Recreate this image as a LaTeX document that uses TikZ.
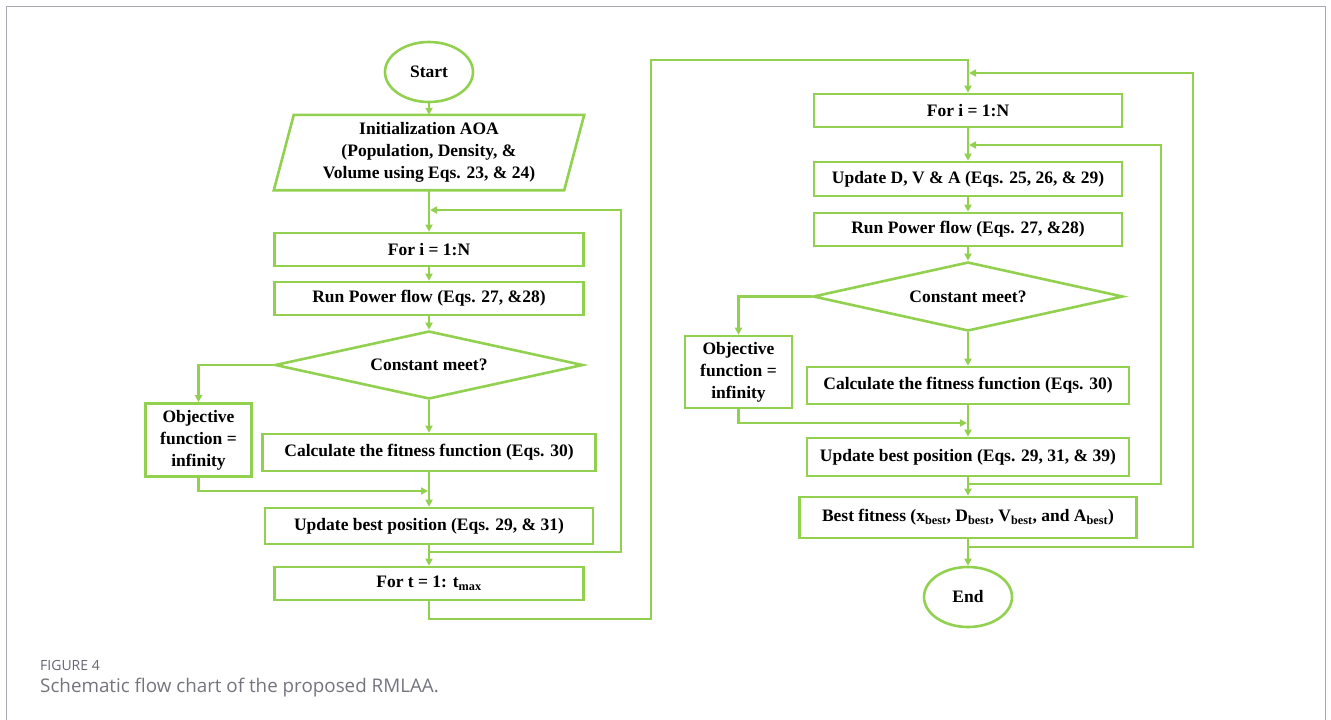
\documentclass[tikz,border=0pt]{standalone}
\usepackage{fontspec}
\setmainfont{Liberation Serif}
\newfontfamily\captionfont{Open Sans}
\usetikzlibrary{shapes.geometric,arrows.meta}

\definecolor{flowgreen}{HTML}{92D050}
\definecolor{framegray}{HTML}{A9A9B6}
\definecolor{labelgray}{HTML}{666674}
\definecolor{captiongray}{HTML}{74747E}

\begin{document}
\begin{tikzpicture}[x=1pt, y=-1pt,
	line/.style = {draw=flowgreen, line width=2.6pt},
	arr/.style = {line, -{Triangle[length=7pt, width=7pt]}},
	flowtext/.style = {font=\fontsize{17.5}{22}\selectfont\bfseries, text=black, align=center},
	box/.style = {line, flowtext, rectangle, minimum height=33pt, inner sep=2pt},
	term/.style = {line, flowtext, ellipse, minimum width=88pt, minimum height=60pt, inner sep=0pt},
	decide/.style = {line, flowtext, diamond, aspect=4.5, inner sep=0pt},
	objbox/.style = {box, minimum width=106pt, minimum height=73pt}
	]
	%	page and frame
	\useasboundingbox (0,0) rectangle (1331,720);
	\draw[framegray, line width=1pt] (6,720) -- (6,6) -- (1325,6) -- (1325,720);
	
	%	column positions
	\def\xl{429}
	\def\xr{968}
	
	%	left column
	\node[term] (start) at (\xl,72) {Start};
	\node[flowtext, minimum width=290pt, minimum height=75pt, inner sep=0pt] (init) at (\xl,152.5)
		{Initialization AOA\\(Population, Density, \&\\Volume using Eqs. 23, \& 24)};
	\draw[line] ([xshift=10pt]init.north west) -- ([xshift=10pt]init.north east)
		-- ([xshift=-10pt]init.south east) -- ([xshift=-10pt]init.south west) -- cycle;
	\node[box, minimum width=309pt] (fori) at (\xl,249.5) {For i = 1:N};
	\node[box, minimum width=309pt] (flow) at (\xl,298.5) {Run Power flow (Eqs. 27, \&28)};
	\node[decide, minimum width=308pt, minimum height=68pt] (meet) at (\xl,365) {Constant meet?};
	\node[objbox] (obj) at (198.5,440) {Objective\\function =\\infinity};
	\node[box, minimum width=333pt, minimum height=37pt] (fit) at (\xl,452.5) {Calculate the fitness function (Eqs. 30)};
	\node[box, minimum width=328pt, minimum height=36pt] (upd) at (\xl,526) {Update best position (Eqs. 29, \& 31)};
	\node[box, minimum width=309pt] (fort) at (\xl,583.5) {For t = 1: t\textsubscript{max}};
	
	%	right column
	\node[box, minimum width=308pt] (fori2) at (\xr,110.5) {For i = 1:N};
	\node[box, minimum width=308pt, minimum height=34pt] (updD) at (\xr,179) {Update D, V \& A (Eqs. 25, 26, \& 29)};
	\node[box, minimum width=308pt] (flow2) at (\xr,229.5) {Run Power flow (Eqs. 27, \&28)};
	\node[decide, minimum width=310pt, minimum height=69pt] (meet2) at (\xr,296.5) {Constant meet?};
	\node[objbox, minimum width=107pt, minimum height=72pt] (obj2) at (738.5,372) {Objective\\function =\\infinity};
	\node[box, minimum width=322pt, minimum height=37pt] (fit2) at (\xr,385.5) {Calculate the fitness function (Eqs. 30)};
	\node[box, minimum width=322pt, minimum height=38pt] (upd2) at (\xr,457) {Update best position (Eqs. 29, 31, \& 39)};
	\node[box, minimum width=337pt, minimum height=41pt] (best) at (\xr,517.5)
		{Best fitness (x\textsubscript{best}, D\textsubscript{best}, V\textsubscript{best}, and A\textsubscript{best})};
	\node[term] (end) at (\xr,597) {End};
	
	%	loop corners
	\coordinate (loopA1) at (621,552);
	\coordinate (loopA2) at (621,210);
	\coordinate (mergeA) at (\xl,491);
	\coordinate (linkA) at (651,619);
	\coordinate (linkB) at (651,60);
	\coordinate (loopB1) at (1193,547);
	\coordinate (loopB2) at (1193,73);
	\coordinate (loopC1) at (1161,484);
	\coordinate (loopC2) at (1161,145);
	\coordinate (mergeB) at (\xr,423);
	
	%	left connectors
	\draw[arr] (start) -- (init);
	\draw[arr] (init) -- (fori);
	\draw[arr] (fori) -- (flow);
	\draw[arr] (flow) -- (meet);
	\draw[arr] (meet) -- (fit);
	\draw[arr] (fit) -- (upd);
	\draw[arr] (upd) -- (fort);
	\draw[arr] (meet.west) -| (obj.north);
	\draw[arr, shorten >=1pt] (obj.south) |- (mergeA);
	\draw[arr, shorten >=1pt] (upd.south |- loopA1) -- (loopA1) -- (loopA2) -- (init.south |- loopA2);
	\draw[arr] (fort.south) |- (linkA) -- (linkB) -| (fori2.north);
	
	%	right connectors
	\draw[arr] (fori2) -- (updD);
	\draw[arr] (updD) -- (flow2);
	\draw[arr] (flow2) -- (meet2);
	\draw[arr] (meet2) -- (fit2);
	\draw[arr] (fit2) -- (upd2);
	\draw[arr] (upd2) -- (best);
	\draw[arr] (best) -- (end);
	\draw[arr] (meet2.west) -| (obj2.north);
	\draw[arr, shorten >=1pt] (obj2.south) |- (mergeB);
	\draw[arr, shorten >=1pt] (upd2.south |- loopC1) -- (loopC1) -- (loopC2) -- (fori2.south |- loopC2);
	\draw[arr, shorten >=1pt] (best.south |- loopB1) -- (loopB1) -- (loopB2) -- (fori2.north |- loopB2);
	
	%	caption
	\node[anchor=base west, inner sep=0pt, text=labelgray, font=\captionfont\fontsize{14}{16}\selectfont] (figlabel) at (40,670) {FIGURE 4};
	\node[anchor=base west, inner sep=0pt, text=captiongray, font=\captionfont\fontsize{18.8}{22}\selectfont] (figcaption) at (40,692) {Schematic flow chart of the proposed RMLAA.};
\end{tikzpicture}
\end{document}
